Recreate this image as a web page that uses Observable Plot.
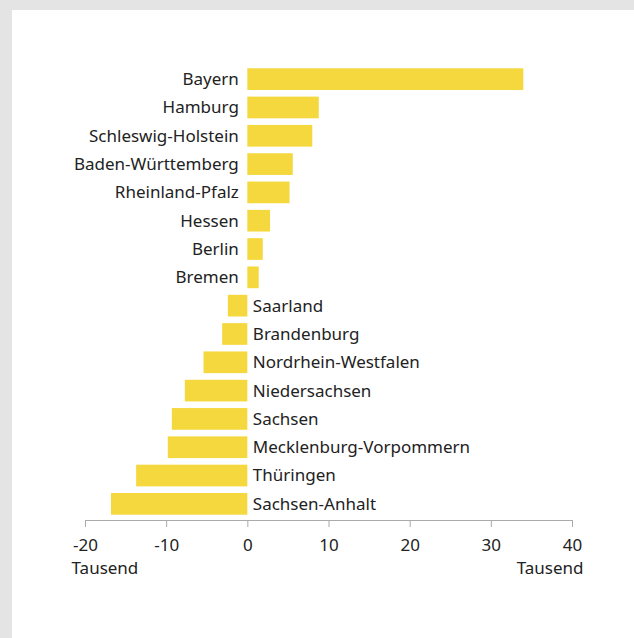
<!DOCTYPE html>
<html>
<head>
<meta charset="utf-8">
<script src="https://cdn.jsdelivr.net/npm/d3@7"></script>
<script src="https://cdn.jsdelivr.net/npm/@observablehq/plot@0.6"></script>
<style>
  html, body { margin: 0; padding: 0; background: #e4e4e4; }
  #panel { position: absolute; left: 12px; top: 10px; width: 622px; height: 628px; background: #fff; }
  #panel svg { display: block; }
</style>
</head>
<body>
<div id="panel"></div>
<script>
const states = ["Bayern","Hamburg","Schleswig-Holstein","Baden-Württemberg","Rheinland-Pfalz","Hessen","Berlin","Bremen","Saarland","Brandenburg","Nordrhein-Westfalen","Niedersachsen","Sachsen","Mecklenburg-Vorpommern","Thüringen","Sachsen-Anhalt"];
const values = [34.0, 8.8, 8.0, 5.6, 5.2, 2.8, 1.9, 1.4, -2.4, -3.1, -5.4, -7.7, -9.3, -9.8, -13.7, -16.8];
const tickValues = [-20, -10, 0, 10, 20, 30, 40];
const unitLabel = "Tausend";

const data = states.map((s, i) => ({state: s, value: values[i]}));
const font = "'Noto Sans', sans-serif";
const textColor = "#222";
const fs = 17;

const chart = Plot.plot({
  width: 622,
  height: 628,
  marginLeft: 73,
  marginRight: 62,
  marginTop: 53,
  marginBottom: 118,
  style: {fontFamily: font, fontSize: fs + "px", color: textColor, background: "white"},
  x: {domain: [-20, 40]},
  y: {domain: states, paddingInner: 0.234, paddingOuter: 0.187, round: false, axis: null},
  marks: [
    Plot.barX(data, {x: "value", y: "state", fill: "#f4d83d"}),
    Plot.text(data.filter(d => d.value >= 0), {x: 0, y: "state", text: "state", textAnchor: "end", dx: -9, fill: textColor, fontSize: fs}),
    Plot.text(data.filter(d => d.value < 0), {x: 0, y: "state", text: "state", textAnchor: "start", dx: 5, fill: textColor, fontSize: fs}),
    Plot.frame({anchor: "bottom", stroke: "#aaa"}),
    Plot.axisX({ticks: tickValues, tickSize: 7, tickPadding: 11, stroke: "#aaa", fill: textColor, fontSize: fs, label: null, tickFormat: d => String(d)}),
    Plot.text([-20], {x: d => d, frameAnchor: "bottom", text: () => unitLabel, textAnchor: "start", dx: -14, dy: 53, fill: textColor, fontSize: fs}),
    Plot.text([40], {x: d => d, frameAnchor: "bottom", text: () => unitLabel, textAnchor: "end", dx: 11, dy: 53, fill: textColor, fontSize: fs})
  ]
});
document.getElementById("panel").appendChild(chart);
</script>
</body>
</html>
